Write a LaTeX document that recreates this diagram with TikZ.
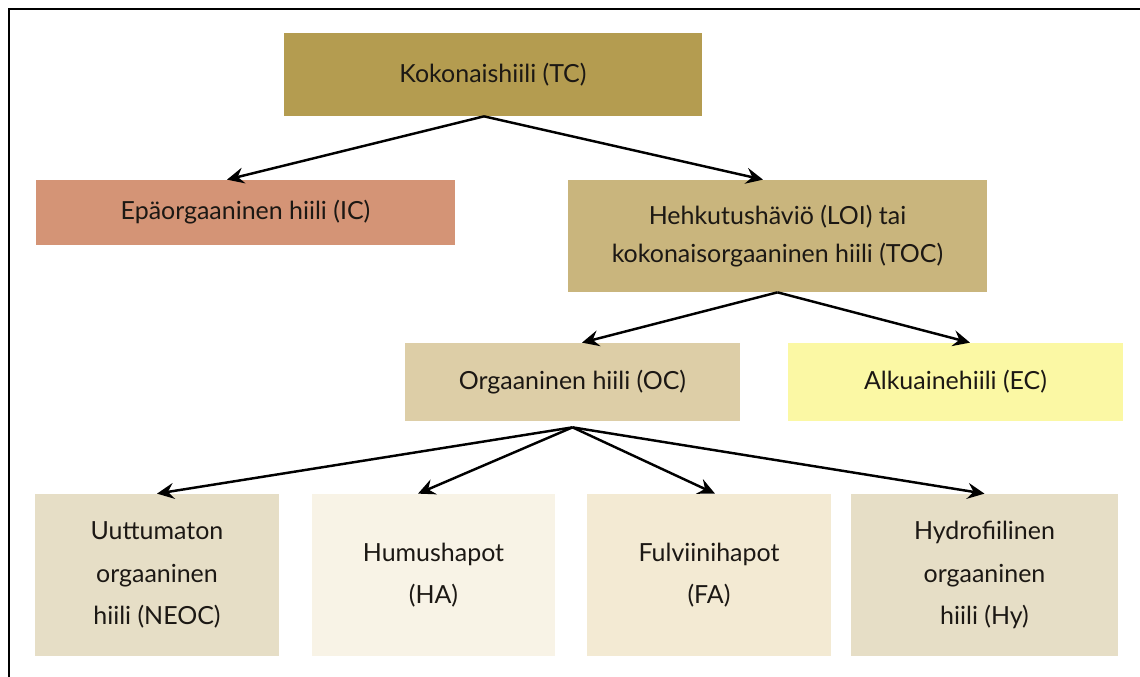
\documentclass[tikz,border=0pt]{standalone}
\usepackage{xcolor}
\usepackage{fontspec}
\usepackage{tikz}
\usetikzlibrary{arrows.meta}
\setmainfont{Lato}
\definecolor{totalgold}{RGB}{180,156,80}
\definecolor{inorgsalmon}{RGB}{212,148,118}
\definecolor{loitan}{RGB}{201,181,125}
\definecolor{ocbeige}{RGB}{221,206,167}
\definecolor{ecyellow}{RGB}{251,248,164}
\definecolor{neocbeige}{RGB}{230,222,198}
\definecolor{hacream}{RGB}{248,243,230}
\definecolor{facream}{RGB}{243,234,211}
\definecolor{textdark}{RGB}{28,24,20}

\begin{document}
\begin{tikzpicture}[
        box/.style={rectangle, inner sep=0pt, minimum width=8.38cm, align=center,
                    text=textdark, font=\fontsize{14.2}{22}\selectfont},
        smallbox/.style={rectangle, inner sep=0pt, minimum width=6.7cm, minimum height=1.56cm,
                    align=center, text=textdark, font=\fontsize{14.2}{22}\selectfont},
        leaf/.style={rectangle, inner sep=0pt, minimum width=4.88cm, minimum height=3.24cm,
                    align=center, text=textdark, font=\fontsize{14.2}{24}\selectfont},
        arrow/.style={-{Stealth[length=3.4mm, width=3.2mm, inset=1.2mm]}, line width=1.4pt, color=black}
    ]
        % Page size and frame
        \useasboundingbox (0,0) rectangle (22.8,13.54);
        \begin{scope}
        \clip (0,0) rectangle (22.8,13.54);
        \draw[line width=1.3pt] (0.18,-1) -- (0.18,13.36) -- (23.5,13.36);
        \end{scope}

        % Top level
        \node[box, fill=totalgold, minimum height=1.66cm, minimum width=8.36cm] (tc) at (9.86,12.05) {Kokonaishiili (TC)};

        % Second level
        \node[box, fill=inorgsalmon, minimum height=1.3cm] (ic) at (4.91,9.29) {Epäorgaaninen hiili (IC)};
        \node[box, fill=loitan, minimum height=2.24cm] (loi) at (15.55,8.82) {Hehkutushäviö (LOI) tai\\kokonaisorgaaninen hiili (TOC)};

        % Third level
        \node[smallbox, fill=ocbeige] (oc) at (11.45,5.9) {Orgaaninen hiili (OC)};
        \node[smallbox, fill=ecyellow] (ec) at (19.11,5.9) {Alkuainehiili (EC)};

        % Fractions of organic carbon
        \node[leaf, fill=neocbeige] (neoc) at (3.14,2.04) {Uuttumaton\\orgaaninen\\hiili (NEOC)};
        \node[leaf, fill=hacream, minimum width=4.86cm] (ha) at (8.67,2.04) {Humushapot\\(HA)};
        \node[leaf, fill=facream] (fa) at (14.18,2.04) {Fulviinihapot\\(FA)};
        \node[leaf, fill=neocbeige, minimum width=5.34cm] (hy) at (19.69,2.04) {Hydrofiilinen\\orgaaninen\\hiili (Hy)};

        % Arrows from total carbon
        \draw[arrow] ([xshift=-1.8mm]tc.south) -- ([xshift=-3.7mm]ic.north);
        \draw[arrow] ([xshift=-1.8mm]tc.south) -- ([xshift=-2.9mm]loi.north);

        % Arrows from LOI / TOC
        \draw[arrow] (loi.south) -- ([xshift=1.9mm]oc.north);
        \draw[arrow] (loi.south) -- ([xshift=2.9mm]ec.north);

        % Arrows from organic carbon
        \coordinate (ocbase) at ([yshift=-1.2mm]oc.south);
        \draw[arrow] (ocbase) -- (neoc.north);
        \draw[arrow] (ocbase) -- ([xshift=-3.1mm]ha.north);
        \draw[arrow] (ocbase) -- ([xshift=1.2mm]fa.north);
        \draw[arrow] (ocbase) -- (hy.north);

    \end{tikzpicture}
\end{document}
